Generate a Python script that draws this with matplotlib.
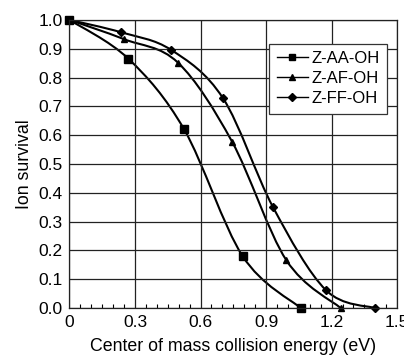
import matplotlib
matplotlib.use("Agg")
import matplotlib.pyplot as plt
import numpy as np
from matplotlib.path import Path
from matplotlib.patches import PathPatch
from matplotlib.ticker import MultipleLocator

plt.rcParams['font.family'] = ['Liberation Sans', 'DejaVu Sans']

# data
aa_x = [0.0, 0.27, 0.525, 0.793, 1.059]
aa_y = [1.0, 0.865, 0.62, 0.18, 0.0]
af_x = [0.0, 0.25, 0.496, 0.744, 0.993, 1.242]
af_y = [1.0, 0.933, 0.852, 0.578, 0.166, 0.0]
ff_x = [0.0, 0.236, 0.465, 0.703, 0.932, 1.174, 1.40]
ff_y = [1.0, 0.957, 0.896, 0.728, 0.35, 0.0625, 0.0]
names = ['Z-AA-OH', 'Z-AF-OH', 'Z-FF-OH']
marks = ['s', '^', 'D']
sizes = [5.5, 5, 4.5]
x_ticks = [0, 0.3, 0.6, 0.9, 1.2, 1.5]
x_labels = ['0', '0.3', '0.6', '0.9', '1.2', '1.5']


def smooth_path(xs, ys):
    # excel-like smoothed line: bezier segments through the points
    p = np.column_stack([xs, ys])
    n = len(p)
    verts = [p[0]]
    codes = [Path.MOVETO]
    for i in range(n - 1):
        p0 = p[i - 1] if i > 0 else p[i]
        p3 = p[i + 2] if i + 2 < n else p[i + 1]
        c1 = p[i] + (p[i + 1] - p0) / 6
        c2 = p[i + 1] - (p3 - p[i]) / 6
        verts += [c1, c2, p[i + 1]]
        codes += [Path.CURVE4] * 3
    return Path(verts, codes)


fig = plt.figure(figsize=(4.04, 3.55), dpi=100)
ax = fig.add_axes([0.172, 0.132, 0.811, 0.812])

for xs, ys, nm, mk, ms in zip([aa_x, af_x, ff_x], [aa_y, af_y, ff_y], names, marks, sizes):
    ax.add_patch(PathPatch(smooth_path(xs, ys), fill=False, color='black', lw=1.5))
    ax.plot(xs, ys, linestyle='none', marker=mk, color='black', ms=ms, clip_on=False)
    ax.plot([], [], marker=mk, color='black', ms=ms - 0.5, lw=1, label=nm)

ax.set_xlim(0, 1.5)
ax.set_ylim(0, 1.0)
ax.set_xticks(x_ticks)
ax.set_xticklabels(x_labels)
ax.set_yticks(np.arange(0, 1.01, 0.1))
ax.set_yticklabels(['%.1f' % v for v in np.arange(0, 1.01, 0.1)])
ax.xaxis.set_minor_locator(MultipleLocator(0.05))
ax.tick_params(axis='both', which='major', length=0, labelsize=12.5, pad=5)
ax.tick_params(axis='x', which='minor', direction='in', length=3, width=0.8)
ax.grid(True, which='major', color='#222222', lw=0.9)
for s in ax.spines.values():
    s.set_color('#222222')
    s.set_linewidth(0.9)

ax.set_xlabel('Center of mass collision energy (eV)', fontsize=12.8, labelpad=6)
ax.set_ylabel('Ion survival', fontsize=12.8, labelpad=4)

leg = ax.legend(loc='upper right', bbox_to_anchor=(0.97, 0.918), fontsize=12,
                frameon=True, fancybox=False, framealpha=1, edgecolor='#333333',
                handlelength=1.9, handletextpad=0.2, labelspacing=0.3, borderpad=0.45,
                borderaxespad=0)
leg.get_frame().set_linewidth(0.9)

fig.savefig('out.png', dpi=100)
